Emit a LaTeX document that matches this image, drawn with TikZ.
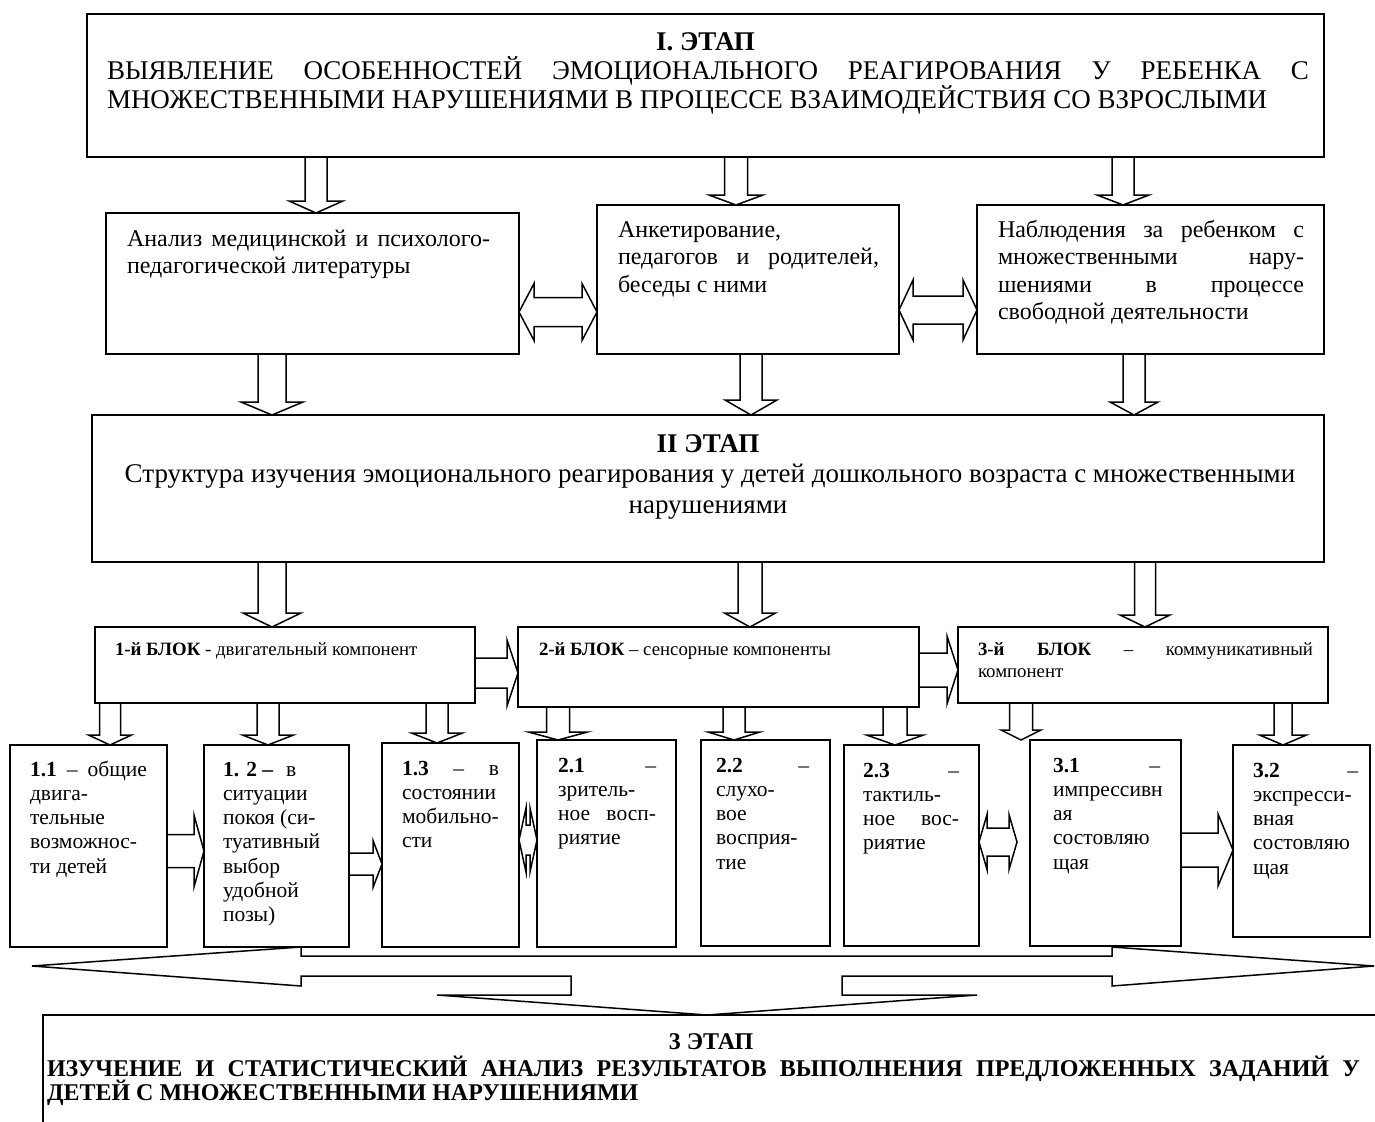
\documentclass[tikz,border=0pt]{standalone}
\usepackage{fontspec}
\setmainfont{Liberation Serif}
\usetikzlibrary{calc}

\tikzset{
  box/.style={draw, line width=1.8pt, inner sep=0pt, outer sep=0pt, anchor=north west},
  barrow/.style={draw, fill=white, line width=1.5pt, line join=miter},
  txt/.style={inner sep=0pt, outer sep=0pt},
}

\newcommand\fTop{\fontsize{27}{30}\selectfont}
\newcommand\fMid{\fontsize{24}{28}\selectfont}
\newcommand\fBlk{\fontsize{18.8}{22}\selectfont}
\newcommand\fSm{\fontsize{21.5}{24}\selectfont}
\newcommand\fBot{\fontsize{24}{27}\selectfont\bfseries}
\newcommand\jl[2]{\makebox[#1pt][s]{#2}}

% box: name, x1, y1, x2, y2 (pixel coordinates)
\newcommand\bx[5]{\node[box, minimum width={#4pt-#2pt}, minimum height={#5pt-#3pt}] (#1) at (#2,#3) {};}

% text lines: prefix, x, first baseline, line skip, font, list
\newcommand\tl[6]{%
  \foreach \tlitem [count=\tlidx] in {#6} {%
    \node[txt, font=#5, anchor=base west] (#1\tlidx) at ({#2},{#3+(\tlidx-1)*#4}) {\tlitem};
  }}

% vertical block arrow: x, from, to, shaft half width, head half width, head length
\newcommand\varr[6]{%
  \draw[barrow] let \p1=(#2), \p2=(#3) in
    (#1pt-#4pt,\y1) -- (#1pt+#4pt,\y1) -- (#1pt+#4pt,\y2+#6pt) -- (#1pt+#5pt,\y2+#6pt)
    -- (#1pt,\y2) -- (#1pt-#5pt,\y2+#6pt) -- (#1pt-#4pt,\y2+#6pt) -- cycle;}

% horizontal block arrow: y, from, to, shaft half width, head half width, head length
\newcommand\harr[6]{%
  \draw[barrow] let \p1=(#2), \p2=(#3) in
    (\x1,-#1pt+#4pt) -- (\x2-#6pt,-#1pt+#4pt) -- (\x2-#6pt,-#1pt+#5pt) -- (\x2,-#1pt)
    -- (\x2-#6pt,-#1pt-#5pt) -- (\x2-#6pt,-#1pt-#4pt) -- (\x1,-#1pt-#4pt) -- cycle;}

% horizontal double block arrow
\newcommand\dharr[6]{%
  \draw[barrow] let \p1=(#2), \p2=(#3) in
    (\x1,-#1pt) -- (\x1+#6pt,-#1pt+#5pt) -- (\x1+#6pt,-#1pt+#4pt) -- (\x2-#6pt,-#1pt+#4pt)
    -- (\x2-#6pt,-#1pt+#5pt) -- (\x2,-#1pt) -- (\x2-#6pt,-#1pt-#5pt) -- (\x2-#6pt,-#1pt-#4pt)
    -- (\x1+#6pt,-#1pt-#4pt) -- (\x1+#6pt,-#1pt-#5pt) -- cycle;}

\begin{document}
\begin{tikzpicture}[x=1pt,y=-1pt]
\useasboundingbox (0,0) rectangle (1375,1121);
\clip (0,0) rectangle (1375,1121);
\fill[white] (0,0) rectangle (1375,1121);

% ---------- boxes ----------
\bx{T}{87}{14}{1324}{157}
\bx{A}{106}{213}{519}{354}
\bx{B}{597}{205}{899}{354}
\bx{C}{977}{205}{1324}{354}
\bx{S2}{92}{415}{1324}{562}
\bx{K1}{95}{627}{475}{703}
\bx{K2}{518}{627}{919}{707}
\bx{K3}{958}{627}{1328}{703}
\bx{B11}{10}{745}{167}{947}
\bx{B12}{204}{745}{349}{947}
\bx{B13}{382}{743}{519}{947}
\bx{B21}{537}{740}{676}{947}
\bx{B22}{701}{740}{830}{946}
\bx{B23}{844}{745}{979}{946}
\bx{B31}{1030}{740}{1181}{946}
\bx{B32}{1233}{745}{1370}{937}
\bx{S3}{43}{1015}{1420}{1160}

% ---------- texts ----------
\node[txt, font=\fTop\bfseries, anchor=base] (t0) at (705.5,51) {I. ЭТАП};
\tl{tT}{107}{80}{28.5}{\fTop}{{\jl{1202}{ВЫЯВЛЕНИЕ ОСОБЕННОСТЕЙ ЭМОЦИОНАЛЬНОГО РЕАГИРОВАНИЯ У РЕБЕНКА С}},МНОЖЕСТВЕННЫМИ НАРУШЕНИЯМИ В ПРОЦЕССЕ ВЗАИМОДЕЙСТВИЯ СО ВЗРОСЛЫМИ}

\tl{tA}{127}{246}{27.5}{\fMid}{{\jl{363}{Анализ медицинской и психолого-}},педагогической литературы}
\tl{tB}{618}{237}{27.5}{\fMid}{{Анкетирование,},{\jl{261}{педагогов и родителей,}},беседы с ними}
\tl{tC}{998}{237}{27.5}{\fMid}{{\jl{306}{Наблюдения за ребенком с}},{\jl{306}{множественными нару-}},{\jl{306}{шениями в процессе}},свободной деятельности}

\node[txt, font=\fTop\bfseries, anchor=base] (s20) at (708,452) {II ЭТАП};
\node[txt, font=\fTop, anchor=base] (s21) at (710,482) {Структура изучения эмоционального реагирования у детей дошкольного возраста с множественными};
\node[txt, font=\fTop, anchor=base] (s22) at (708,513) {нарушениями};

\node[txt, font=\fBlk, anchor=base west] (k1) at (115,655) {\textbf{1-й БЛОК} - двигательный компонент};
\node[txt, font=\fBlk, anchor=base west] (k2) at (539,655) {\textbf{2-й БЛОК} – сенсорные компоненты};
\tl{k3}{978}{655}{22}{\fBlk}{{\jl{335}{\textbf{3-й} \textbf{БЛОК} – коммуникативный}},компонент}

\tl{t11}{30}{776}{24.3}{\fSm}{{\jl{117}{\textbf{1.1} – общие}},двига-,тельные,возможнос-,ти детей}
\tl{t12}{223}{776}{24.3}{\fSm}{{\textbf{1. 2 –}\hspace{0.6em}в},ситуации,покоя (си-,туативный,выбор,удобной,позы)}
\tl{t13}{402}{775}{24.3}{\fSm}{{\jl{97}{\textbf{1.3} – в}},состоянии,мобильно-,сти}
\tl{t21}{558}{772}{24.3}{\fSm}{{\jl{98}{\textbf{2.1} –}},зритель-,{\jl{98}{ное восп-}},риятие}
\tl{t22}{716}{772}{24.3}{\fSm}{{\jl{93}{\textbf{2.2} –}},слухо-,вое,восприя-,тие}
\tl{t23}{863}{777}{24.3}{\fSm}{{\jl{96}{\textbf{2.3} –}},тактиль-,{\jl{96}{ное вос-}},риятие}
\tl{t31}{1053}{772}{24.3}{\fSm}{{\jl{107}{\textbf{3.1} –}},импрессивн,ая,состовляю,щая}
\tl{t32}{1253}{777}{24.3}{\fSm}{{\jl{105}{\textbf{3.2} –}},экспресси-,вная,состовляю,щая}

\node[txt, font=\fBot, anchor=base] (s30) at (711,1049) {3 ЭТАП};
\tl{s3}{47}{1076}{24}{\fBot}{{\jl{1313}{ИЗУЧЕНИЕ И СТАТИСТИЧЕСКИЙ АНАЛИЗ РЕЗУЛЬТАТОВ ВЫПОЛНЕНИЯ ПРЕДЛОЖЕННЫХ ЗАДАНИЙ У}},ДЕТЕЙ С МНОЖЕСТВЕННЫМИ НАРУШЕНИЯМИ}

% ---------- arrows ----------
\varr{316}{T.south}{A.north}{11}{27}{12}
\varr{736}{T.south}{B.north}{11.5}{27}{10}
\varr{1123}{T.south}{C.north}{11}{26}{10}

\dharr{312}{A.east}{B.west}{14.5}{28.5}{15}
\dharr{310}{B.east}{C.west}{14}{30}{14}

\varr{272}{A.south}{S2.north}{14}{31}{13}
\varr{751}{B.south}{S2.north}{11}{26}{15}
\varr{1134}{C.south}{S2.north}{11}{24}{13}

\varr{272}{S2.south}{K1.north}{14}{29}{14}
\varr{750}{S2.south}{K2.north}{12}{25.5}{14}
\varr{1145}{S2.south}{K3.north}{10.5}{25}{12}

\harr{673}{K1.east}{K2.west}{15}{33}{11}
\harr{670}{K2.east}{K3.west}{17}{34}{11}

\varr{110}{K1.south}{B11.north}{10.5}{21.5}{10}
\varr{268}{K1.south}{B12.north}{11}{25.5}{10}
\varr{437}{K1.south}{B13.north}{11}{25.5}{10}
\varr{558}{K2.south}{B21.north}{11.5}{29.5}{8}
\varr{734}{K2.south}{B22.north}{11}{26}{8}
\varr{895}{K2.south}{B23.north}{12}{28.5}{10}
\varr{1021}{K3.south}{B31.north}{11.5}{20}{10}
\varr{1283}{K3.south}{B32.north}{9}{23.5}{10}

\harr{851}{B11.east}{B12.west}{16.5}{36}{10}
\harr{864}{B12.east}{B13.west}{11}{23.5}{9}
\dharr{840}{B13.east}{B21.west}{15}{32}{7}
\coordinate (f4end) at (1017,842);
\dharr{842}{B23.east}{f4end}{14}{27.5}{8}
\harr{850}{B31.east}{B32.west}{17}{36}{15}

% big three-headed arrow towards stage 3
\draw[barrow] (32,966) -- (301,947) -- (301,956) -- (1112,956) -- (1112,947) -- (1374,966)
  -- (1112,986) -- (1112,976) -- (842,976) -- (842,995) -- (977,995) -- (707,1015)
  -- (437,995) -- (571,995) -- (571,976) -- (301,976) -- (301,986) -- cycle;
\end{tikzpicture}
\end{document}
